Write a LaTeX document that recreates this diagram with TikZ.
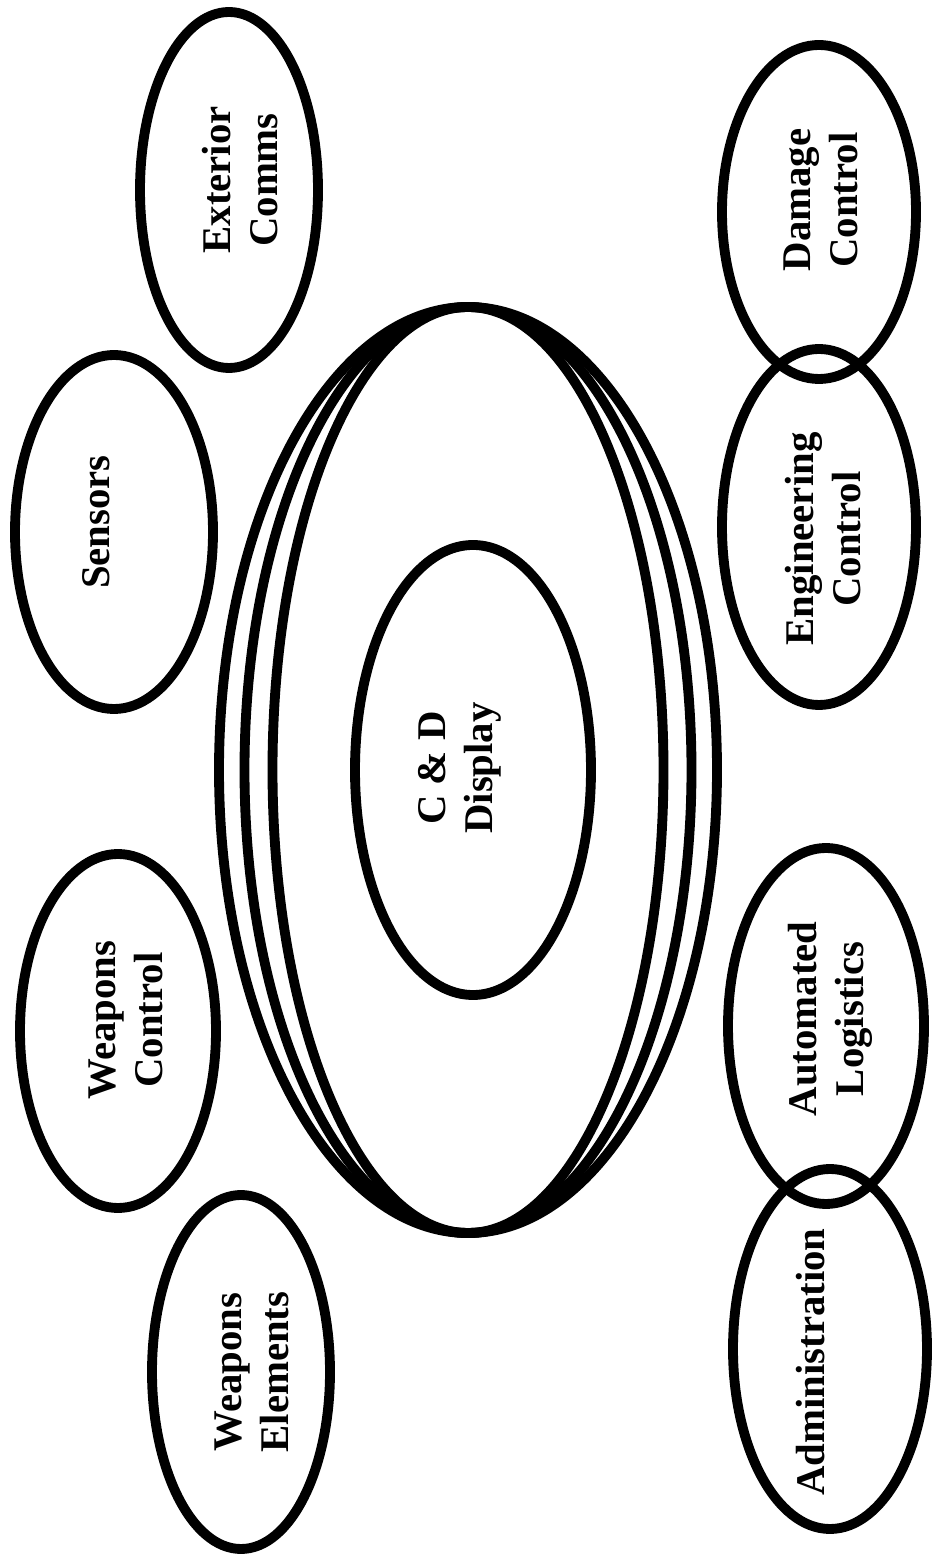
\documentclass[tikz,border=0pt]{standalone}
\usepackage{fontspec}
\setmainfont{Liberation Serif}
\tikzset{
  ring/.style={line width=2.8pt},
  tag/.style={rotate=90, align=center, inner sep=0pt, font=\fontsize{11.6}{13.4}\selectfont\bfseries}
}
\begin{document}
\begin{tikzpicture}
\useasboundingbox (0,0) rectangle (9.32,15.58);
\coordinate (hub) at (4.68,7.88);
\coordinate (CD) at (4.73,7.88);
\coordinate (EC) at (2.29,13.68);
\coordinate (SE) at (1.14,10.26);
\coordinate (WC) at (1.18,5.27);
\coordinate (WE) at (2.41,1.86);
\coordinate (DC) at (8.19,13.46);
\coordinate (EN) at (8.19,10.31);
\coordinate (AL) at (8.26,5.32);
\coordinate (AD) at (8.30,2.09);
% nested rings round the display
\draw[ring] (hub) ellipse [x radius=2.49, y radius=4.63];
\draw[ring] (hub) ellipse [x radius=2.235, y radius=4.63];
\draw[ring] (hub) ellipse [x radius=1.955, y radius=4.63];
\draw[ring] (CD) ellipse [x radius=1.18, y radius=2.25];
\node[tag] (cd-text) at (4.60,7.90) {C \& D\\Display};
% left side
\draw[ring] (EC) ellipse [x radius=0.89, y radius=1.78];
\node[tag] (ec-text) at (2.40,13.78) {Exterior\\Comms};
\draw[ring] (SE) ellipse [x radius=0.99, y radius=1.77];
\node[tag] (se-text) at (0.96,10.36) {Sensors};
\draw[ring] (WC) ellipse [x radius=0.98, y radius=1.77];
\node[tag] (wc-text) at (1.26,5.38) {Weapons\\Control};
\draw[ring] (WE) ellipse [x radius=0.89, y radius=1.77];
\node[tag] (we-text) at (2.52,1.86) {Weapons\\Elements};
% right side
\draw[ring] (DC) ellipse [x radius=0.97, y radius=1.67];
\node[tag] (dc-text) at (8.21,13.58) {Damage\\Control};
\draw[ring] (EN) ellipse [x radius=0.97, y radius=1.78];
\node[tag] (en-text) at (8.23,10.19) {Engineering\\Control};
\draw[ring] (AL) ellipse [x radius=0.98, y radius=1.78];
\node[tag] (al-text) at (8.30,5.39) {Automated\\Logistics};
\draw[ring] (AD) ellipse [x radius=0.97, y radius=1.80];
\node[tag] (ad-text) at (8.11,1.96) {Administration};
\end{tikzpicture}
\end{document}
